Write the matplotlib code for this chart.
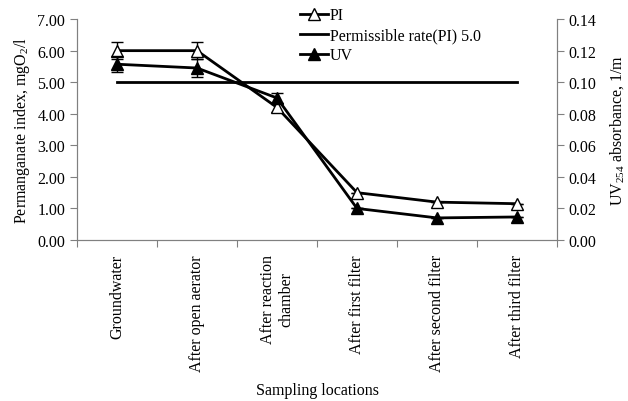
import numpy as np
import matplotlib.pyplot as plt
from matplotlib.lines import Line2D

plt.rcParams['font.family'] = ['Liberation Serif', 'DejaVu Serif']
plt.rcParams['mathtext.fontset'] = 'custom'
plt.rcParams['mathtext.rm'] = 'Liberation Serif'
plt.rcParams['mathtext.it'] = 'Liberation Serif:italic'

locations = ['Groundwater', 'After open aerator', 'After reaction\nchamber',
             'After first filter', 'After second filter', 'After third filter']
pi = [6.0, 6.0, 4.2, 1.5, 1.2, 1.15]
pi_err = [0.28, 0.28, 0.15, 0.0, 0.0, 0.0]
permissible = [5.0] * 6
uv = [0.1114, 0.109, 0.090, 0.020, 0.014, 0.0146]
uv_err = [0.0052, 0.0058, 0.0034, 0.0, 0.0, 0.0]

fs = 11.5

fig = plt.figure(figsize=(6.28, 4.02), dpi=100)
ax = fig.add_axes([0.1226, 0.4005, 0.7644, 0.5495])
ax2 = ax.twinx()

x = np.arange(len(locations))
ax.errorbar(x, pi, yerr=pi_err, color='black', lw=2, marker='^', ms=9,
            mfc='white', mec='black', mew=1, capsize=4, elinewidth=1,
            ecolor='black', zorder=3)
ax.plot(x, permissible, color='black', lw=2)
ax2.errorbar(x, uv, yerr=uv_err, color='black', lw=2, marker='^', ms=9,
             mfc='black', mec='black', capsize=4, elinewidth=1,
             ecolor='black', zorder=3)

ax.set_xlim(-0.5, len(locations) - 0.5)
ax.set_ylim(0, 7)
ax2.set_ylim(0, 0.14)
ax.set_yticks(np.arange(0, 7.01, 1))
ax.set_yticklabels(['%.2f' % v for v in np.arange(0, 7.01, 1)])
ax2.set_yticks(np.arange(0, 0.141, 0.02))
ax2.set_yticklabels(['%.2f' % v for v in np.arange(0, 0.141, 0.02)])

ax.set_xticks(np.arange(-0.5, len(locations), 1))
ax.set_xticklabels([])
ax.set_xticks(x, minor=True)
ax.set_xticklabels(locations, minor=True, rotation=90, fontsize=fs)
ax.tick_params(axis='x', which='minor', length=0, pad=10)
ax.tick_params(axis='x', which='major', length=5, color='grey')
ax.tick_params(axis='y', length=5, color='grey', labelsize=fs)
ax2.tick_params(axis='y', length=5, color='grey', labelsize=fs)

for a in (ax, ax2):
    a.spines['top'].set_visible(False)
    for s in ('left', 'right', 'bottom'):
        a.spines[s].set_color('grey')

ax.set_ylabel('Permanganate index, mgO$_2$/l', fontsize=fs)
ax2.set_ylabel('UV$_{254}$ absorbance, 1/m', fontsize=fs, labelpad=8)
fig.text(0.505, 0.018, 'Sampling locations', ha='center', fontsize=fs)

handles = [
    Line2D([], [], color='black', lw=2, marker='^', ms=9, mfc='white', mec='black'),
    Line2D([], [], color='black', lw=2),
    Line2D([], [], color='black', lw=2, marker='^', ms=9, mfc='black', mec='black'),
]
ax.legend(handles, ['PI', 'Permissible rate(PI) 5.0', 'UV'],
          loc='upper left', bbox_to_anchor=(0.447, 1.09), frameon=False,
          fontsize=fs, handlelength=1.8, handletextpad=0.1,
          labelspacing=0.25, borderpad=0)

fig.savefig('out.png', dpi=100)
